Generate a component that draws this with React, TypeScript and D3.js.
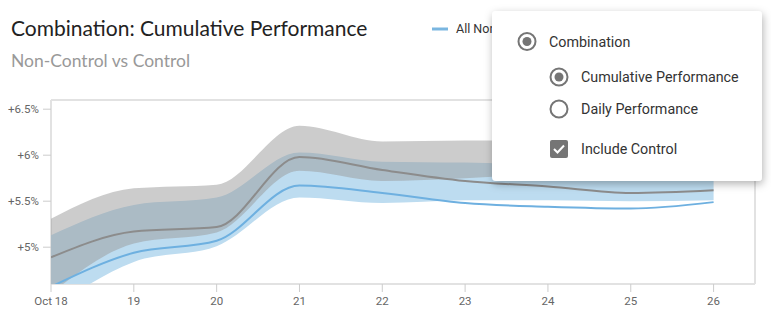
import React from 'react';
import * as d3 from 'd3';

const days = [18, 19, 20, 21, 22, 23, 24, 25, 26];
const xTickLabels = ['Oct 18', '19', '20', '21', '22', '23', '24', '25', '26'];
const yTickValues = [5, 5.5, 6, 6.5];
const yTickLabels = ['+5%', '+5.5%', '+6%', '+6.5%'];

// Control (grey)
const controlMean = [4.89, 5.17, 5.22, 5.98, 5.84, 5.72, 5.66, 5.59, 5.62];
const controlUpper = [5.31, 5.64, 5.68, 6.32, 6.15, 6.16, 6.16, 6.15, 6.15];
const controlLower = [4.5, 5.04, 5.16, 5.83, 5.72, 5.75, 5.79, 5.79, 5.79];

// All Non-Control (blue)
const nonControlMean = [4.57, 4.94, 5.07, 5.67, 5.59, 5.48, 5.44, 5.42, 5.49];
const nonControlUpper = [5.13, 5.46, 5.54, 6.03, 5.93, 5.92, 5.9, 5.9, 5.9];
const nonControlLower = [4.33, 4.84, 5.01, 5.54, 5.48, 5.51, 5.51, 5.5, 5.51];

const title = 'Combination: Cumulative Performance';
const subtitle = 'Non-Control vs Control';
const legendLabel = 'All Non-Control';
const menuOptions = ['Combination', 'Cumulative Performance', 'Daily Performance', 'Include Control'];

export default function App() {
  const W = 771;
  const H = 325;
  const left = 51, right = 755, top = 100, bottom = 284;
  const x = d3.scaleLinear().domain([18, 26.5]).range([left, right]);
  const y = d3.scaleLinear().domain([4.6, 6.6]).range([bottom, top]);

  const area = (lo: number[], hi: number[]) =>
    d3.area<number>()
      .x((_, i) => x(days[i]))
      .y0((_, i) => y(lo[i]))
      .y1((_, i) => y(hi[i]))
      .curve(d3.curveMonotoneX)(days) || '';
  const line = (vals: number[]) =>
    d3.line<number>()
      .x((_, i) => x(days[i]))
      .y((_, i) => y(vals[i]))
      .curve(d3.curveMonotoneX)(days) || '';

  const axisFont = 'Roboto, sans-serif';
  const menuX = 492, menuY = 11, menuW = 270, menuH = 170;

  return (
    <svg width={W} height={H} style={{ position: 'absolute', left: 0, top: 0, background: '#fff' }}>
      <defs>
        <clipPath id="plotClip">
          <rect x={left} y={top} width={right - left} height={bottom - top} />
        </clipPath>
        <filter id="shadow" x="-10%" y="-10%" width="125%" height="130%">
          <feDropShadow dx="1" dy="3" stdDeviation="4" floodColor="#000" floodOpacity="0.3" />
        </filter>
      </defs>

      <text x={11} y={36} fontFamily="Lato, sans-serif" fontSize={21} fill="#222">{title}</text>
      <text x={11} y={67} fontFamily="Lato, sans-serif" fontSize={17.5} fill="#999">{subtitle}</text>

      {/* legend */}
      <line x1={432} x2={448} y1={29} y2={29} stroke="#7ab6e0" strokeWidth={3} />
      <text x={456} y={33} fontFamily={axisFont} fontSize={12.5} fill="#333">{legendLabel}</text>

      {/* frame */}
      <g stroke="#e2e2e2" strokeWidth={2} fill="none">
        <line x1={left} x2={right} y1={top} y2={top} />
        <line x1={left} x2={left} y1={top} y2={bottom} />
        <line x1={right} x2={right} y1={top} y2={bottom} />
        <line x1={left} x2={right} y1={bottom} y2={bottom} />
      </g>

      {/* y axis */}
      {yTickValues.map((v, i) => (
        <g key={'y' + i}>
          <line x1={43} x2={left} y1={y(v)} y2={y(v)} stroke="#ccc" strokeWidth={1} />
          <text x={39} y={y(v)} dy="0.35em" textAnchor="end" fontFamily={axisFont} fontSize={11.5} fill="#666">{yTickLabels[i]}</text>
        </g>
      ))}

      {/* x axis */}
      {days.map((d, i) => (
        <g key={'x' + i}>
          <line x1={x(d)} x2={x(d)} y1={bottom} y2={bottom + 8} stroke="#ccc" strokeWidth={1} />
          <text x={x(d)} y={305} textAnchor="middle" fontFamily={axisFont} fontSize={11.5} fill="#666">{xTickLabels[i]}</text>
        </g>
      ))}

      <g clipPath="url(#plotClip)">
        <path d={area(nonControlLower, nonControlUpper)} fill="#bddcf0" />
        <path d={area(controlLower, controlUpper)} fill="rgb(153,153,153)" fillOpacity={0.5} />
        <path d={line(controlMean)} fill="none" stroke="#8c8c8c" strokeWidth={2} />
        <path d={line(nonControlMean)} fill="none" stroke="#6eb0e0" strokeWidth={2} />
      </g>

      {/* popup menu */}
      <g>
        <rect x={menuX} y={menuY} width={menuW} height={menuH} rx={4} fill="#fff" filter="url(#shadow)" />
        <circle cx={527} cy={41.5} r={8.5} fill="none" stroke="#757575" strokeWidth={2} />
        <circle cx={527} cy={41.5} r={4.5} fill="#757575" />
        <text x={549} y={41.5} dy="0.35em" fontFamily={axisFont} fontSize={14.3} fill="#333">{menuOptions[0]}</text>

        <circle cx={559} cy={77} r={8.5} fill="none" stroke="#757575" strokeWidth={2} />
        <circle cx={559} cy={77} r={4.5} fill="#757575" />
        <text x={581} y={77} dy="0.35em" fontFamily={axisFont} fontSize={14.3} fill="#333">{menuOptions[1]}</text>

        <circle cx={559} cy={109} r={8.5} fill="none" stroke="#757575" strokeWidth={2} />
        <text x={581} y={109} dy="0.35em" fontFamily={axisFont} fontSize={14.3} fill="#333">{menuOptions[2]}</text>

        <rect x={550} y={140} width={18} height={18} rx={2} fill="#757575" />
        <path d="M554,149 L557.5,152.5 L564,145.5" fill="none" stroke="#fff" strokeWidth={2} />
        <text x={581} y={149} dy="0.35em" fontFamily={axisFont} fontSize={14.3} fill="#333">{menuOptions[3]}</text>
      </g>
    </svg>
  );
}
